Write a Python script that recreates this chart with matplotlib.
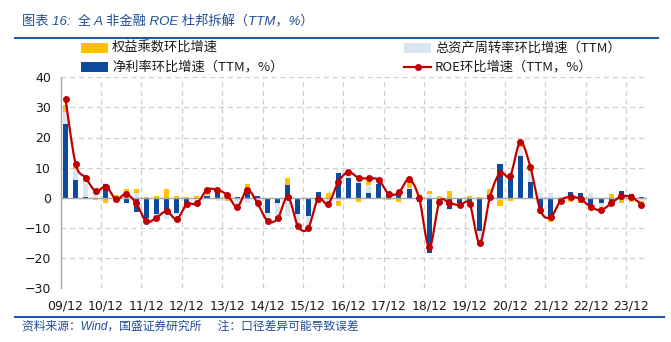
import numpy as np
import matplotlib.pyplot as plt
from matplotlib.patches import Rectangle
from matplotlib.lines import Line2D

# --- Data (quarterly from 09/12 to 24/03) ---
year_labels = ['09/12', '10/12', '11/12', '12/12', '13/12', '14/12', '15/12', '16/12',
               '17/12', '18/12', '19/12', '20/12', '21/12', '22/12', '23/12']

# 净利率环比增速（TTM，%）
net_margin = [24.4, 5.9, 0.3, 0.0, 4.5, -1.3, -1.9, -4.8, -6.8, -5.5, -4.7, -5.2,
              -2.2, -0.2, 0.5, 2.4, 1.5, 0.2, 3.1, 0.6, -5.0, -1.9, 4.2, -5.5,
              -6.2, 2.0, -0.3, 8.2, 6.7, 5.0, 1.7, 4.4, 1.1, 1.0, 2.8, -1.3,
              -18.5, -1.3, -3.8, -1.6, -1.4, -11.2, 1.0, 11.1, 7.2, 14.0, 5.1, -3.9,
              -6.8, -0.8, 1.9, 1.6, -2.8, -1.9, -2.0, 2.2, 1.2, 0.3]
# 总资产周转率环比增速（TTM）
turnover = [4.2, 3.6, 5.0, 1.5, 0.5, -0.3, 1.6, 1.5, -1.1, -1.0, -2.5, -0.5,
            -0.3, -1.3, 0.3, -1.2, -0.1, -2.5, -1.9, -1.8, -2.4, -4.3, -6.0, -3.9,
            -3.9, -1.2, -1.7, -1.2, 0.6, 2.2, 2.6, 1.0, 0.6, 1.7, 0.5, 0.2,
            1.2, -0.3, -0.2, -0.6, -1.0, -3.7, -2.0, -0.7, 0.9, 2.8, 3.9, 1.6,
            1.6, 0.5, -0.5, -0.6, 1.4, -1.6, -0.6, -0.2, 0.4, -1.2]
# 权益乘数环比增速
equity_mult = [2.2, 1.0, 1.1, -0.6, -1.7, 0.8, 1.4, 1.4, 0.3, 0.6, 2.8, 0.7,
               0.2, 0.4, 2.0, 0.6, -1.0, -0.3, 1.4, -0.3, -0.8, -0.8, 2.5, -0.3,
               -0.2, -0.7, 1.4, -1.5, 0.1, -1.3, 1.4, -0.4, -0.8, -1.5, 2.3, 1.0,
               1.0, 0.7, 2.1, -0.2, 0.6, 0.2, 1.9, -2.0, -1.1, 0.3, 1.4, -1.5,
               -1.4, -0.3, -1.0, -1.1, -1.2, -0.4, 1.1, -1.5, -1.5, -0.8]
# ROE环比增速（TTM，%）
roe = [32.7, 11.2, 6.6, 2.1, 3.7, -0.5, 1.2, -1.9, -7.9, -6.6, -4.5, -7.1,
       -2.2, -1.9, 2.6, 2.6, 0.9, -3.0, 2.6, -1.9, -7.7, -6.9, 0.3, -9.4,
       -10.2, -0.4, -2.1, 5.3, 8.5, 6.6, 6.4, 5.9, 1.2, 1.8, 6.1, -0.2,
       -16.5, -1.5, -1.8, -2.5, -2.1, -15.1, 0.1, 8.3, 7.2, 18.4, 10.3, -4.2,
       -6.5, -1.0, 0.3, -0.5, -3.1, -4.1, -1.9, 0.4, 0.2, -2.3]

DARK_BLUE = '#0B4A9C'
LIGHT_BLUE = '#DAE5F2'
ORANGE = '#FFC000'
RED = '#C00000'
TEXT_BLUE = '#1F4E9A'
GRID = '#CFCFCF'

CJK = ['Noto Sans CJK SC', 'DejaVu Sans']
CJK_ITALIC = ['Liberation Sans', 'Noto Sans CJK SC']


def smooth(x, y, n=16):
    """Catmull-Rom curve through the points (like Excel's smoothed line)."""
    pts = np.column_stack([x, y]).astype(float)
    p = np.vstack([pts[0], pts, pts[-1]])
    t = np.linspace(0, 1, n, endpoint=False)[:, None]
    segs = []
    for k in range(1, len(p) - 2):
        p0, p1, p2, p3 = p[k - 1], p[k], p[k + 1], p[k + 2]
        segs.append(0.5 * (2 * p1 + (-p0 + p2) * t + (2 * p0 - 5 * p1 + 4 * p2 - p3) * t ** 2
                           + (-p0 + 3 * p1 - 3 * p2 + p3) * t ** 3))
    segs.append(pts[-1:])
    out = np.vstack(segs)
    return out[:, 0], out[:, 1]


W, H = 671, 342
fig = plt.figure(figsize=(W / 100, H / 100), dpi=100)


def fx(px):
    return px / W


def fy(py):
    return 1 - py / H


ax = fig.add_axes([fx(60.5), fy(288), fx(646.5) - fx(60.5), fy(77.3) - fy(288)])

x = np.arange(len(roe))
series = [(net_margin, DARK_BLUE), (turnover, LIGHT_BLUE), (equity_mult, ORANGE)]
pos_base = np.zeros(len(x))
neg_base = np.zeros(len(x))
for vals, col in series:
    v = np.array(vals)
    bottom = np.where(v >= 0, pos_base, neg_base)
    ax.bar(x, v, bottom=bottom, width=0.5, color=col, linewidth=0, zorder=2)
    pos_base += np.where(v >= 0, v, 0)
    neg_base += np.where(v < 0, v, 0)

sx, sy = smooth(x, roe)
ax.plot(sx, sy, color=RED, linewidth=1.6, zorder=4)
ax.plot(x, roe, linestyle='none', marker='o', markersize=4, color=RED, zorder=5)

# axes styling
ax.set_xlim(-0.5, len(x) - 0.5)
ax.set_ylim(-30, 40)
ax.set_yticks(np.arange(-30, 41, 10))
ax.set_xticks(np.arange(0, len(x), 4)[:len(year_labels)])
ax.set_xticklabels(year_labels)
for yv in [-30, -20, -10, 10, 20, 30, 40]:
    ax.axhline(yv, color=GRID, linewidth=0.9, linestyle=(0, (4, 3)), zorder=0)
for xv in np.arange(3.5, len(x) - 1, 4):
    ax.axvline(xv, color=GRID, linewidth=0.9, linestyle=(0, (4, 3)), zorder=0)
ax.axhline(0, color='#A6A6A6', linewidth=1.0, zorder=3)
for s in ['top', 'right', 'bottom']:
    ax.spines[s].set_visible(False)
ax.spines['left'].set_color('#A6A6A6')
ax.spines['left'].set_linewidth(1.0)
ax.tick_params(axis='both', length=0, labelsize=9, colors='#1a1a1a')
ax.tick_params(axis='y', pad=7)
ax.tick_params(axis='x', pad=8)

# title, rules and source
fig.text(fx(22), fy(22), '图表 16:  全 A 非金融 ROE 杜邦拆解（TTM，%）', family=CJK_ITALIC,
         style='italic', fontsize=9.5, color=TEXT_BLUE, va='center', ha='left')
fig.add_artist(Line2D([fx(15), fx(658)], [fy(38), fy(38)], color='#2458A6', linewidth=1.5))
fig.add_artist(Line2D([fx(15), fx(664)], [fy(316.5), fy(316.5)], color='#2458A6', linewidth=1.5))
fig.text(fx(22), fy(327), '资料来源：Wind，国盛证券研究所     注：口径差异可能导致误差',
         family=CJK_ITALIC, style='italic', fontsize=8.5, color=TEXT_BLUE, va='center', ha='left')

# legend (two columns)
legend_items = [
    ('patch', ORANGE, '权益乘数环比增速', 81, 48),
    ('patch', DARK_BLUE, '净利率环比增速（TTM，%）', 81, 67),
    ('patch', LIGHT_BLUE, '总资产周转率环比增速（TTM）', 404, 48),
    ('line', RED, 'ROE环比增速（TTM，%）', 404, 67),
]
for kind, col, label, px, py in legend_items:
    if kind == 'patch':
        fig.add_artist(Rectangle((fx(px), fy(py + 5)), fx(27), 10 / H, color=col, linewidth=0))
    else:
        fig.add_artist(Line2D([fx(px), fx(px + 27)], [fy(py), fy(py)], color=col, linewidth=1.6))
        fig.add_artist(Line2D([fx(px + 13.5)], [fy(py)], color=col, marker='o', markersize=4))
    fig.text(fx(px + 31), fy(py), label, family=CJK, fontsize=9.5, color='#1a1a1a',
             va='center', ha='left')

fig.savefig('out.png', dpi=100)
